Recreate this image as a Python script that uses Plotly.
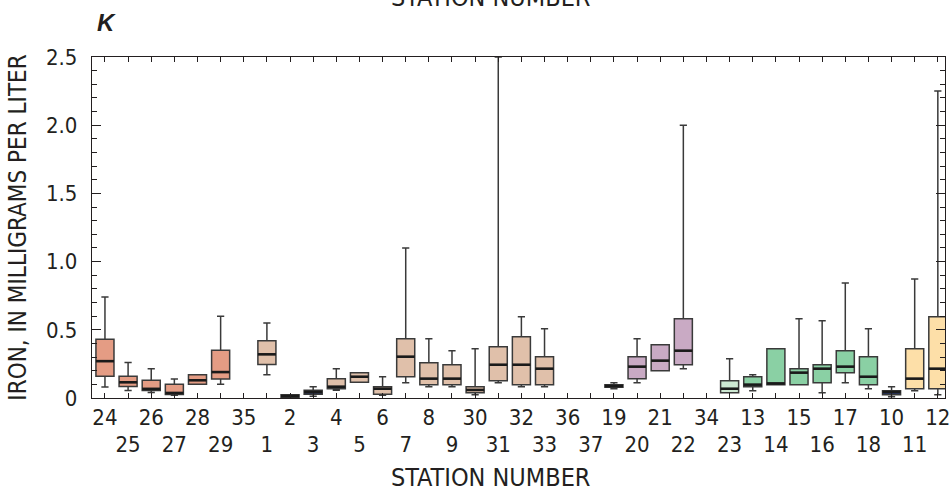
import plotly.graph_objects as go

stations = ["24","25","26","27","28","29","35","1","2","3","4","5","6","7","8","9",
            "30","31","32","33","36","37","19","20","21","22","34","23","13","14",
            "15","16","17","18","10","11","12"]
groups = ["sal","sal","sal","sal","sal","sal","sal","tan","navy","navy","tan","tan","tan","tan","tan","tan",
          "tan","tan","tan","tan","tan","tan","navy","mau","mau","mau","mau","lgr","grn","grn",
          "grn","grn","grn","grn","navy","org","org"]
lower = [0.08,0.055,0.04,0.02,0.10,0.10,None,0.17,0.003,0.012,0.056,0.115,0.02,0.112,0.083,0.083,
         0.024,0.112,0.083,0.083,None,None,0.068,0.112,0.20,0.215,None,0.039,0.054,0.098,
         0.098,0.039,0.112,0.068,0.01,0.054,0.024]
q1 = [0.16,0.085,0.055,0.025,0.10,0.14,None,0.245,0.003,0.027,0.068,0.115,0.027,0.156,0.098,0.098,
      0.039,0.127,0.098,0.098,None,None,0.078,0.142,0.20,0.244,None,0.039,0.083,0.098,
      0.098,0.112,0.186,0.098,0.024,0.068,0.068]
median = [0.27,0.115,0.067,0.037,0.13,0.19,None,0.32,0.014,0.044,0.083,0.156,0.068,0.303,0.142,0.142,
          0.059,0.244,0.244,0.215,None,None,0.088,0.23,0.274,0.347,None,0.068,0.098,0.107,
          0.186,0.215,0.23,0.156,0.044,0.142,0.215]
q3 = [0.43,0.16,0.13,0.10,0.17,0.35,None,0.42,0.024,0.056,0.142,0.186,0.083,0.435,0.259,0.244,
      0.083,0.376,0.449,0.303,None,None,0.098,0.303,0.391,0.581,None,0.127,0.156,0.361,
      0.215,0.244,0.347,0.303,0.054,0.361,0.596]
upper = [0.74,0.26,0.215,0.14,0.17,0.60,None,0.55,0.024,0.083,0.215,0.186,0.156,1.10,0.435,0.347,
         0.361,2.5,0.596,0.508,None,None,0.112,0.435,0.391,2.0,None,0.288,0.171,0.361,
         0.581,0.567,0.843,0.508,0.083,0.872,2.25]

colors = {"sal": "#E49C84", "tan": "#E0C0AA", "navy": "#2B3A6A", "mau": "#C9AAC4",
          "lgr": "#CDE8D2", "grn": "#8AD0A4", "org": "#FDDFA8"}

FONT = "Liberation Sans Narrow, Arial Narrow, DejaVu Sans Condensed, sans-serif"
INK = "#231f20"
BW = 0.78

fig = go.Figure()
for g, col in colors.items():
    idx = [i for i in range(len(stations)) if groups[i] == g and median[i] is not None]
    if not idx:
        continue
    fig.add_trace(go.Box(
        x=idx, q1=[q1[i] for i in idx], median=[median[i] for i in idx],
        q3=[q3[i] for i in idx], lowerfence=[lower[i] for i in idx],
        upperfence=[upper[i] for i in idx],
        fillcolor=col, line=dict(color="#3a3a3a", width=1.5),
        width=BW, whiskerwidth=0.4, boxpoints=False, showlegend=False,
        hoverinfo="skip"))

# thicker median lines
mx, my = [], []
for i, m in enumerate(median):
    if m is None:
        continue
    mx += [i - BW / 2, i + BW / 2, None]
    my += [m, m, None]
fig.add_trace(go.Scatter(x=mx, y=my, mode="lines", line=dict(color="#1a1a1a", width=2.6),
                         showlegend=False, hoverinfo="skip"))

odd_idx = list(range(1, len(stations), 2))
xr = [-0.56, 36.31]

fig.update_layout(
    width=951, height=491,
    margin=dict(l=92, r=1, t=57, b=93),
    plot_bgcolor="white", paper_bgcolor="white",
    font=dict(family=FONT, size=22, color=INK),
    xaxis=dict(range=xr, tickmode="array", tickvals=list(range(len(stations))),
               ticktext=[stations[i] if i % 2 == 0 else "" for i in range(len(stations))],
               ticks="inside", ticklen=5, tickcolor=INK, showline=True,
               linecolor=INK, linewidth=1.3, mirror="ticks", showgrid=False,
               zeroline=False, ticklabelstandoff=-1, ticklabeloverflow="allow"),
    xaxis2=dict(range=xr, overlaying="x", side="bottom", anchor="y", tickmode="array",
                tickvals=odd_idx, ticktext=[stations[i] for i in odd_idx], ticks="",
                showline=False, showgrid=False, zeroline=False, ticklabelstandoff=31,
                ticklabeloverflow="allow"),
    yaxis=dict(range=[0, 2.5], tickmode="array", tickvals=[0, 0.5, 1, 1.5, 2, 2.5],
               ticktext=["0", "0.5", "1.0", "1.5", "2.0", "2.5"],
               ticks="inside", ticklen=9, tickcolor=INK, showline=True,
               linecolor=INK, linewidth=1.3, mirror="ticks", showgrid=False,
               zeroline=False, ticklabelstandoff=9,
               minor=dict(dtick=0.1, tick0=0, ticks="inside", ticklen=5, tickcolor=INK),
               title=dict(text="IRON, IN MILLIGRAMS PER LITER", standoff=12,
                          font=dict(size=24))),
)
# dummy trace on xaxis2 so it renders
fig.add_trace(go.Scatter(x=[None], y=[None], xaxis="x2", showlegend=False))

fig.add_annotation(text="<b><i>K</i></b>", xref="paper", yref="paper", x=0.0, y=1.0,
                   xshift=3, yshift=19, xanchor="left", yanchor="bottom", showarrow=False,
                   font=dict(family="Liberation Sans, Arial, sans-serif", size=24))
fig.add_annotation(text="STATION NUMBER", xref="paper", yref="paper", x=(493 - 92) / 858,
                   y=1.0, yshift=43, xanchor="center", yanchor="bottom", showarrow=False,
                   font=dict(size=25))
fig.add_annotation(text="STATION NUMBER", xref="paper", yref="paper", x=(493 - 92) / 858,
                   y=0.0, yshift=-63, xanchor="center", yanchor="top", showarrow=False,
                   font=dict(size=25))

fig.write_html("out.html", config={"displayModeBar": False},
               post_script="document.body.style.margin='0';")
